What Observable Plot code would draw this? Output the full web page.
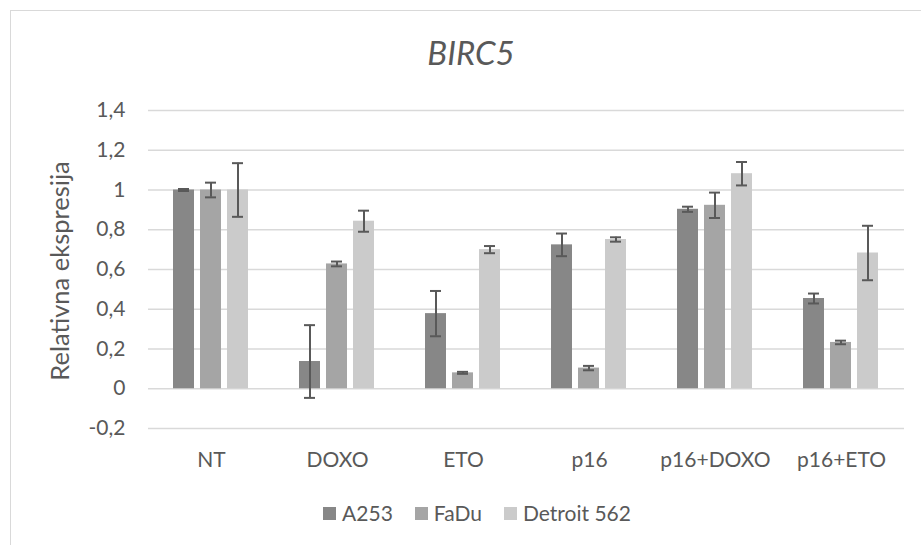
<!DOCTYPE html>
<html>
<head>
<meta charset="utf-8">
<script src="https://cdn.jsdelivr.net/npm/d3@7"></script>
<script src="https://cdn.jsdelivr.net/npm/@observablehq/plot@0.6"></script>
<style>
  html, body { margin: 0; padding: 0; background: #fff; }
  body { width: 921px; height: 545px; position: relative; overflow: hidden; font-family: Lato, "Open Sans", sans-serif; color: #595959; }
  #frame { position: absolute; left: 10px; top: 10px; width: 1000px; height: 600px; border-top: 1.5px solid #d9d9d9; border-left: 1.5px solid #d9d9d9; }
  #title { position: absolute; left: 0; width: 942px; top: 30px; text-align: center; font-size: 33px; font-style: italic; line-height: 44px; }
  #ylabel { position: absolute; left: 59px; top: 271px; transform: translate(-50%, -50%) rotate(-90deg); white-space: nowrap; font-size: 25.5px; }
  #chart { position: absolute; left: 0; top: 90px; }
  #legend { position: absolute; left: 0; width: 954px; top: 500px; display: flex; justify-content: center; font-size: 21px; line-height: 26px; }
  .item { display: flex; align-items: center; margin: 0 11px; }
  .sw { width: 13px; height: 13px; margin-right: 6px; }
</style>
</head>
<body>
<div id="frame"></div>
<div id="title">BIRC5</div>
<div id="ylabel">Relativna ekspresija</div>
<div id="chart"></div>
<div id="legend"></div>
<script>
const categories = ["NT", "DOXO", "ETO", "p16", "p16+DOXO", "p16+ETO"];
const seriesNames = ["A253", "FaDu", "Detroit 562"];
const colors = ["#878787", "#a5a5a5", "#cbcbcb"];
const yTicks = [-0.2, 0, 0.2, 0.4, 0.6, 0.8, 1, 1.2, 1.4];

const a253 = [1.00, 0.137, 0.378, 0.724, 0.903, 0.454];
const a253Err = [0.005, 0.183, 0.114, 0.057, 0.013, 0.025];
const fadu = [1.00, 0.628, 0.080, 0.104, 0.923, 0.233];
const faduErr = [0.037, 0.012, 0.005, 0.011, 0.064, 0.009];
const detroit = [1.00, 0.843, 0.700, 0.751, 1.082, 0.683];
const detroitErr = [0.135, 0.053, 0.018, 0.011, 0.059, 0.137];

const values = [a253, fadu, detroit];
const errors = [a253Err, faduErr, detroitErr];
const data = [];
categories.forEach((c, i) => {
  seriesNames.forEach((s, j) => {
    data.push({category: c, series: s, value: values[j][i], err: errors[j][i]});
  });
});

const fmt = d => String(Math.round(d * 10) / 10).replace(".", ",");

const plot = Plot.plot({
  width: 921,
  height: 390,
  marginLeft: 145,
  marginRight: 15,
  marginTop: 20,
  marginBottom: 52,
  style: {fontFamily: "Lato, 'Open Sans', sans-serif", fontSize: "21px", color: "#595959", background: "transparent"},
  fx: {domain: categories, padding: 0, label: null},
  x: {domain: seriesNames, paddingInner: 0.214, paddingOuter: 0.872, axis: null},
  y: {domain: [-0.2, 1.4], label: null},
  color: {domain: seriesNames, range: colors},
  marks: [
    Plot.gridY(yTicks, {stroke: "#d9d9d9", strokeOpacity: 1, strokeWidth: 1.5}),
    Plot.axisY(yTicks, {tickSize: 0, tickPadding: 23, tickFormat: fmt, label: null, fill: "#595959"}),
    Plot.axisFx({anchor: "bottom", tickSize: 0, tickPadding: 24, label: null, fill: "#595959"}),
    Plot.barY(data, {fx: "category", x: "series", y: "value", fill: "series"}),
    Plot.ruleX(data, {fx: "category", x: "series", y1: d => d.value - d.err, y2: d => d.value + d.err, stroke: "#595959", strokeWidth: 2}),
    Plot.tickY(data, {fx: "category", x: "series", y: d => d.value - d.err, stroke: "#595959", strokeWidth: 2, insetLeft: 5, insetRight: 5}),
    Plot.tickY(data, {fx: "category", x: "series", y: d => d.value + d.err, stroke: "#595959", strokeWidth: 2, insetLeft: 5, insetRight: 5})
  ]
});
document.getElementById("chart").appendChild(plot);

const legend = document.getElementById("legend");
seriesNames.forEach((s, i) => {
  const item = document.createElement("div");
  item.className = "item";
  const sw = document.createElement("span");
  sw.className = "sw";
  sw.style.background = colors[i];
  const t = document.createElement("span");
  t.textContent = s;
  item.appendChild(sw);
  item.appendChild(t);
  legend.appendChild(item);
});
</script>
</body>
</html>
